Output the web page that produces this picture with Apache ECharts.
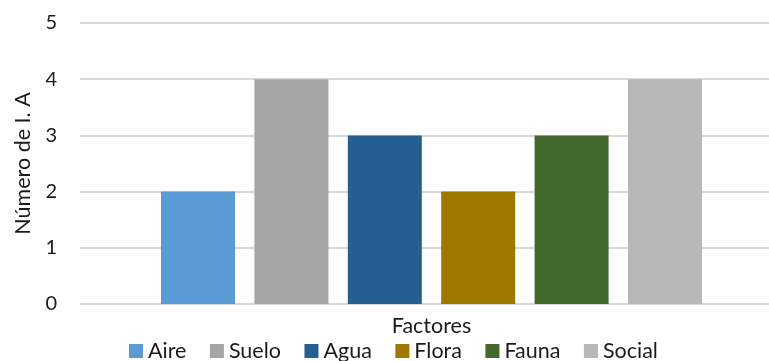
<!DOCTYPE html>
<html>
<head>
<meta charset="utf-8">
<script src="https://cdn.jsdelivr.net/npm/echarts@6/dist/echarts.min.js"></script>
<style>
  html, body { margin: 0; padding: 0; background: #fff; }
  #chart { width: 769px; height: 361px; }
</style>
</head>
<body>
<div id="chart"></div>
<script>
// Number of environmental impacts per factor
const categories = ['Factores'];
const seriesNames = ['Aire', 'Suelo', 'Agua', 'Flora', 'Fauna', 'Social'];
const seriesValues = [2, 4, 3, 2, 3, 4];
const seriesColors = ['#5B9BD5', '#A5A5A5', '#255E91', '#9E7800', '#43682B', '#B7B7B7'];
const yTicks = [0, 1, 2, 3, 4, 5];

const FONT = 'Lato, Open Sans, sans-serif';
const TEXT = '#1a1a1a';

const chart = echarts.init(document.getElementById('chart'), null, { renderer: 'canvas' });

chart.setOption({
  animation: false,
  textStyle: { fontFamily: FONT },
  grid: {
    left: 80, width: 703, top: 23, bottom: 57,
    containLabel: false,
    outerBoundsMode: 'none'
  },
  legend: {
    data: seriesNames,
    left: 129,
    top: 340,
    icon: 'rect',
    itemWidth: 14,
    itemHeight: 14,
    itemGap: 23.5,
    padding: 0,
    textStyle: { fontSize: 21.5, color: TEXT, fontFamily: FONT }
  },
  xAxis: {
    type: 'category',
    data: categories,
    axisLine: { show: false },
    axisTick: { show: false },
    axisLabel: { show: false },
    name: 'Factores',
    nameLocation: 'middle',
    nameGap: 11,
    nameTextStyle: { fontSize: 21.5, color: TEXT, fontFamily: FONT, verticalAlign: 'top' }
  },
  yAxis: {
    type: 'value',
    min: yTicks[0],
    max: yTicks[yTicks.length - 1],
    interval: 1,
    axisLine: { show: false },
    axisTick: { show: false },
    axisLabel: { fontSize: 20, color: TEXT, margin: 23, fontFamily: FONT },
    splitLine: { lineStyle: { color: '#D9D9D9', width: 2 } },
    name: 'Número de I. A',
    nameLocation: 'middle',
    nameGap: 46,
    nameTextStyle: { fontSize: 21.5, color: TEXT, fontFamily: FONT }
  },
  series: seriesNames.map((name, i) => ({
    name,
    type: 'bar',
    data: [seriesValues[i]],
    barWidth: 74,
    barGap: '26.2%',
    itemStyle: { color: seriesColors[i] }
  }))
});
</script>
</body>
</html>
